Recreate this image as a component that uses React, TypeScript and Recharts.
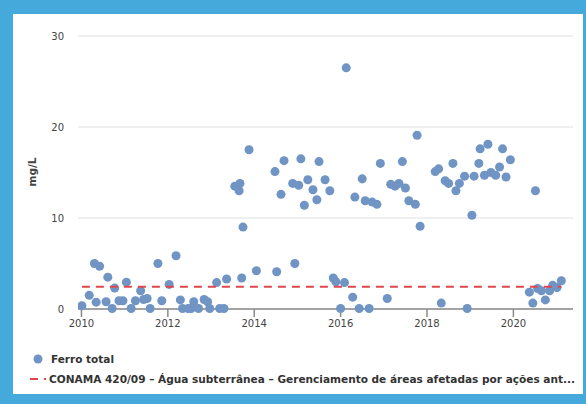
import React from 'react';
import {
  ScatterChart,
  Scatter,
  XAxis,
  YAxis,
  ZAxis,
  CartesianGrid,
  Legend,
} from 'recharts';

const years: number[] = [
  2010.01, 2010.18, 2010.3, 2010.34, 2010.42, 2010.57, 2010.61, 2010.71, 2010.77, 2010.87,
  2010.96, 2011.04, 2011.15, 2011.25, 2011.37, 2011.44, 2011.52, 2011.59, 2011.77, 2011.86,
  2012.03, 2012.19, 2012.29, 2012.34, 2012.47, 2012.54, 2012.6, 2012.71, 2012.84, 2012.92,
  2012.97, 2013.13, 2013.2, 2013.3, 2013.36, 2013.55, 2013.65, 2013.67, 2013.71, 2013.74,
  2013.88, 2014.05, 2014.48, 2014.52, 2014.62, 2014.69, 2014.89, 2014.94, 2015.03, 2015.08,
  2015.16, 2015.24, 2015.36, 2015.45, 2015.5, 2015.64, 2015.75, 2015.83, 2015.89, 2016.0,
  2016.09, 2016.13, 2016.28, 2016.33, 2016.43, 2016.5, 2016.57, 2016.66, 2016.73, 2016.84,
  2016.92, 2017.08, 2017.16, 2017.26, 2017.35, 2017.43, 2017.5, 2017.58, 2017.73, 2017.77,
  2017.84, 2018.19, 2018.27, 2018.33, 2018.42, 2018.5, 2018.6, 2018.67, 2018.75, 2018.87,
  2018.93, 2019.04, 2019.09, 2019.2, 2019.23, 2019.33, 2019.41, 2019.48, 2019.59, 2019.68,
  2019.75, 2019.83, 2019.93, 2020.37, 2020.45, 2020.51, 2020.56, 2020.65, 2020.74, 2020.84,
  2020.91, 2021.01, 2021.11,
];

const ferroTotal: number[] = [
  0.35, 1.5, 5.0, 0.75, 4.7, 0.8, 3.5, 0.05, 2.3, 0.9,
  0.9, 2.95, 0.05, 0.9, 2.0, 1.05, 1.15, 0.05, 5.0, 0.9,
  2.7, 5.85, 1.0, 0.05, 0.05, 0.05, 0.8, 0.05, 1.05, 0.8,
  0.05, 2.9, 0.05, 0.05, 3.3, 13.5, 13.0, 13.8, 3.4, 9.0,
  17.5, 4.2, 15.1, 4.1, 12.6, 16.3, 13.8, 5.0, 13.6, 16.5,
  11.4, 14.2, 13.1, 12.0, 16.2, 14.2, 13.0, 3.4, 3.0, 0.05,
  2.9, 26.5, 1.3, 12.3, 0.05, 14.3, 11.9, 0.05, 11.75, 11.5,
  16.0, 1.15, 13.7, 13.5, 13.8, 16.2, 13.3, 11.9, 11.5, 19.1,
  9.1, 15.1, 15.4, 0.65, 14.1, 13.8, 16.0, 13.0, 13.8, 14.6,
  0.05, 10.3, 14.6, 16.0, 17.6, 14.7, 18.1, 15.0, 14.7, 15.6,
  17.6, 14.5, 16.4, 1.85, 0.65, 13.0, 2.25, 2.0, 1.0, 2.0,
  2.6, 2.35, 3.1,
];

const limitYears: number[] = [2010.01, 2021.11];
const limitValues: number[] = [2.45, 2.45];

const xTicks: number[] = [2010, 2012, 2014, 2016, 2018, 2020];
const yTicks: number[] = [0, 10, 20, 30];

const seriesName = 'Ferro total';
const limitName =
  'CONAMA 420/09 – Água subterrânea – Gerenciamento de áreas afetadas por ações ant...';
const yLabel = 'mg/L';

const pointData = years.map((x, i) => ({ x, y: ferroTotal[i] }));
const limitData = limitYears.map((x, i) => ({ x, y: limitValues[i] }));

const DOT = '#7094c4';
const RED = '#e0474c';
const FONT = '"DejaVu Sans", sans-serif';

const renderLegend = () => (
  <svg width={586} height={50} style={{ display: 'block' }}>
    <circle cx={38} cy={14} r={4.5} fill={DOT} />
    <text x={51} y={18} fontFamily={FONT} fontSize={10.5} fontWeight="bold" fill="#333">
      {seriesName}
    </text>
    <line x1={30} x2={46} y1={34} y2={34} stroke={RED} strokeWidth={2} strokeDasharray="8 6" />
    <text
      x={49}
      y={38}
      fontFamily={FONT}
      fontSize={10.5}
      fontWeight="bold"
      fill="#333"
      textLength={526}
      lengthAdjust="spacingAndGlyphs"
    >
      {limitName}
    </text>
  </svg>
);

export default function App() {
  return (
    <div
      style={{
        position: 'absolute',
        left: 0,
        top: 0,
        width: 586,
        height: 404,
        background: '#46a9dc',
        overflow: 'hidden',
      }}
    >
      <div
        style={{
          position: 'absolute',
          left: 13,
          top: 14,
          width: 570,
          height: 380,
          background: '#ffffff',
        }}
      />
      <div style={{ position: 'absolute', left: 0, top: 0 }}>
        <ScatterChart
          width={586}
          height={404}
          margin={{ top: 36, right: 13, bottom: 15, left: 18 }}
        >
          <CartesianGrid horizontal vertical={false} stroke="#dedede" strokeWidth={1} />
          <XAxis
            type="number"
            dataKey="x"
            domain={[2009.92, 2021.38]}
            ticks={xTicks}
            allowDataOverflow
            height={30}
            stroke="#8a8a8a"
            strokeWidth={1.5}
            tickSize={8}
            tickMargin={3}
            tick={{ fontFamily: FONT, fontSize: 10, fill: '#444' }}
          />
          <YAxis
            type="number"
            dataKey="y"
            domain={[0, 30]}
            ticks={yTicks}
            width={60}
            axisLine={false}
            tickLine={false}
            tickSize={0}
            tickMargin={14}
            tick={{ fontFamily: FONT, fontSize: 10, fill: '#444' }}
            label={{
              content: () => (
                <text
                  x={36}
                  y={172}
                  transform="rotate(-90 36 172)"
                  textAnchor="middle"
                  fontFamily={FONT}
                  fontSize={10.5}
                  fontWeight="bold"
                  fill="#444"
                >
                  {yLabel}
                </text>
              ),
            }}
          />
          <ZAxis range={[64, 64]} />
          <Scatter
            name={seriesName}
            data={pointData}
            fill={DOT}
            shape="circle"
            isAnimationActive={false}
          />
          <Scatter
            name={limitName}
            data={limitData}
            line={{ stroke: RED, strokeWidth: 2, strokeDasharray: '8 6' }}
            shape={() => <g />}
            isAnimationActive={false}
          />
          <Legend
            content={renderLegend}
            wrapperStyle={{ position: 'absolute', left: 0, top: 345, width: 586, height: 50 }}
          />
        </ScatterChart>
      </div>
    </div>
  );
}
